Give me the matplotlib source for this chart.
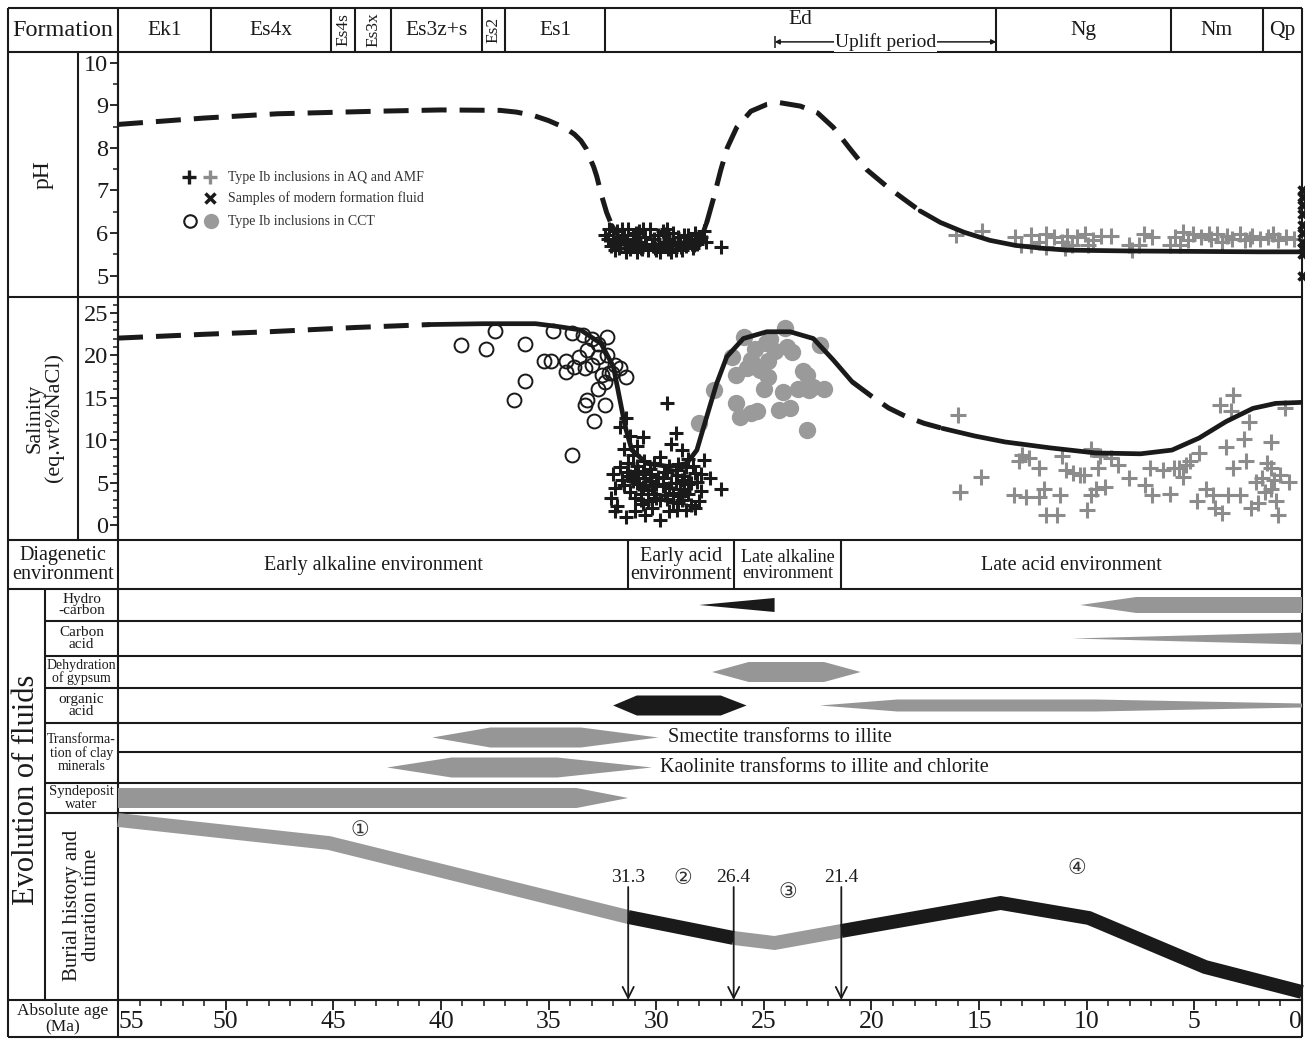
import matplotlib
matplotlib.use("Agg")
import matplotlib.pyplot as plt
import numpy as np
from matplotlib.patches import Polygon

W, H, DPI = 1305, 1041, 100
INK = "#1a1a1a"
PT_GRAY = "#8c8c8c"
DOT_GRAY = "#9a9a9a"
BAR_GRAY = "#969696"

plt.rcParams.update({
    "font.family": ["Liberation Serif", "DejaVu Sans"],
    "text.color": INK,
    "axes.unicode_minus": False,
})

# -----------------------------------------------------------------------------
# Stratigraphy (ages in Ma)
# -----------------------------------------------------------------------------
formation_names = ["Ek1", "Es4x", "Es4s", "Es3x", "Es3z+s", "Es2", "Es1", "Ed", "Ng", "Nm", "Qp"]
formation_bounds = [55, 50.7, 45.1, 44.0, 42.3, 38.1, 37.0, 32.4, 14.2, 6.1, 1.8, 0]
formation_rotated = ["Es4s", "Es3x", "Es2"]
uplift_start, uplift_end = 24.5, 14.2

# -----------------------------------------------------------------------------
# pH evolution curve
# -----------------------------------------------------------------------------
ph_early_age = [55, 51, 47.6, 43, 40, 37.25, 36.5, 35.7, 35.0, 34.5, 34.15, 33.8, 33.5,
                33.25, 33.07, 32.9, 32.76, 32.53, 32.3, 32.06]
ph_early = [8.55, 8.70, 8.80, 8.86, 8.89, 8.88, 8.84, 8.76, 8.64, 8.53, 8.44, 8.32, 8.17,
            7.98, 7.75, 7.55, 7.33, 6.87, 6.48, 6.18]
ph_trough_age = [32.06, 31.68, 30.9, 30.3, 29.2, 28.4, 27.9, 27.65]
ph_trough = [6.18, 5.87, 5.70, 5.64, 5.60, 5.71, 5.90, 6.25]
ph_uplift_age = [27.65, 27.35, 27.0, 26.7, 26.26, 25.6, 24.86, 24.25, 23.3, 22.5, 21.77,
                 21.0, 20.2, 19.3, 18.5, 17.74]
ph_uplift = [6.25, 6.79, 7.48, 8.0, 8.48, 8.86, 9.02, 9.06, 8.98, 8.82, 8.48,
             7.98, 7.48, 7.10, 6.80, 6.52]
ph_late_age = [17.74, 16.8, 15.7, 14.5, 13.3, 12.0, 10.9, 8.0, 5.0, 2.0, 0]
ph_late = [6.52, 6.25, 6.02, 5.83, 5.71, 5.64, 5.60, 5.58, 5.57, 5.56, 5.56]

# Type Ib inclusions in AQ and AMF (early, black)
ph_aq_black_age = [32.4, 32.2, 32.0, 31.8, 31.7, 31.5, 31.3, 31.2, 31.0, 30.8, 30.7, 30.5,
                   30.3, 30.2, 30.0, 29.9, 29.7, 29.6, 29.4, 29.2, 29.1, 28.9, 28.7, 28.6,
                   28.4, 28.2, 28.1, 27.9, 27.8, 27.7, 27.0, 32.1, 31.9, 31.4, 30.9, 30.4,
                   29.8, 29.3, 28.8, 28.3, 31.6, 30.6, 29.5, 30.1, 31.1, 29.0,
                   31.9, 31.6, 31.35, 31.05, 30.75, 30.45, 30.15, 29.85, 29.55, 29.25,
                   28.95, 28.65, 28.35, 28.05, 31.75, 31.2, 30.65, 30.05, 29.45, 28.85,
                   28.25, 32.25, 30.95, 29.65, 28.5]
ph_aq_black = [5.95, 6.10, 5.85, 6.05, 5.75, 5.95, 6.10, 5.70, 5.85, 6.05, 5.65, 5.90,
               6.10, 5.75, 5.60, 5.95, 6.05, 5.70, 5.85, 6.00, 5.60, 5.80, 5.95, 5.70,
               5.85, 6.00, 5.75, 5.90, 6.05, 5.80, 5.68, 5.70, 5.60, 5.55, 5.55, 5.60,
               5.55, 5.55, 5.60, 5.65, 6.10, 6.10, 6.10, 5.85, 5.95, 5.90,
               5.80, 5.85, 5.80, 5.75, 5.80, 5.75, 5.70, 5.75, 5.80, 5.72,
               5.75, 5.80, 5.75, 5.85, 5.65, 5.62, 5.62, 5.65, 5.62, 5.67,
               5.72, 5.85, 6.00, 5.98, 5.95]

# Type Ib inclusions in AQ and AMF (late, gray)
ph_aq_gray_age = [16.06, 14.87, 13.31, 13.07, 12.59, 12.23, 11.87, 11.51, 11.15, 10.92, 10.68,
                  10.44, 10.08, 9.96, 9.72, 9.36, 8.88, 8.04, 7.32, 6.97, 6.13, 5.89, 5.53,
                  5.29, 5.05, 4.69, 4.21, 3.97, 3.73, 3.49, 3.25, 2.89, 2.66, 2.30, 1.94,
                  1.58, 1.34, 1.10, 0.74, 0.38, 12.59, 11.87, 11.03, 7.56, 7.92, 5.65,
                  4.33, 2.42]
ph_aq_gray = [5.96, 6.06, 5.91, 5.71, 5.96, 5.79, 5.98, 5.91, 5.79, 5.94, 5.71,
              5.91, 5.98, 5.71, 5.83, 5.94, 5.94, 5.71, 5.98, 5.91, 5.71, 5.91, 6.02,
              5.83, 5.98, 5.91, 5.87, 5.98, 5.79, 5.94, 5.87, 5.98, 5.83, 5.94, 5.87,
              5.91, 5.98, 5.83, 5.91, 5.87, 5.71, 5.68, 5.64, 5.71, 5.60, 5.71,
              5.98, 5.87]

# Samples of modern formation fluid (present day)
ph_modern = [7.0, 6.85, 6.65, 6.45, 6.2, 6.0, 5.8, 5.65, 5.5, 5.0]

# -----------------------------------------------------------------------------
# Salinity evolution curve (eq. wt% NaCl)
# -----------------------------------------------------------------------------
sal_early_age = [55, 51, 48, 44, 40.5]
sal_early = [22.05, 22.5, 22.8, 23.3, 23.65]
sal_mid_age = [40.5, 38, 35.6, 34.46, 33.5, 32.56, 31.99, 31.68, 31.44, 31.13, 30.44, 29.35,
               28.58, 28.11, 27.65, 27.19, 26.72, 25.95, 24.86, 23.78, 22.7, 21.77, 20.9]
sal_mid = [23.65, 23.75, 23.75, 23.38, 23.0, 21.4, 18.7, 14.7, 11.6, 8.84, 7.27, 6.88,
           7.27, 8.84, 12.8, 16.7, 19.85, 22.0, 22.8, 22.8, 22.0, 19.46, 16.9]
sal_gap_age = [20.9, 20.0, 19.2, 18.4, 17.56, 16.7]
sal_gap = [16.9, 15.2, 13.8, 12.8, 12.0, 11.4]
sal_late_age = [16.7, 15.2, 13.8, 11.7, 9.6, 7.5, 6.04, 4.78, 3.53, 2.28, 1.22, 0]
sal_late = [11.4, 10.5, 9.8, 9.1, 8.5, 8.4, 8.84, 10.26, 12.2, 13.76, 14.35, 14.47]

# Type Ib inclusions in CCT (open circles)
sal_cct_open_age = [39.06, 37.9, 37.5, 36.1, 36.6, 36.1, 34.8, 35.2, 34.9, 34.2, 34.2, 33.8,
                    33.3, 33.6, 33.9, 33.4, 33.0, 32.7, 32.3, 33.2, 32.7, 32.3, 33.0, 32.5,
                    32.2, 31.9, 31.7, 31.4, 32.4, 32.7, 33.2, 33.3, 32.4, 32.9, 33.9, 32.06]
sal_cct_open = [21.2, 20.8, 22.9, 21.3, 14.7, 17.0, 22.9, 19.3, 19.3, 19.3, 18.1, 18.7,
                18.5, 19.8, 22.7, 22.4, 22.0, 21.4, 22.2, 20.6, 19.8, 20.0, 18.9, 17.7,
                17.9, 18.9, 18.5, 17.5, 16.9, 16.1, 14.7, 14.2, 14.2, 12.3, 8.3, 17.9]

# Type Ib inclusions in CCT (gray dots)
sal_cct_gray_age = [28.0, 27.3, 26.5, 26.3, 26.3, 26.1, 25.9, 25.8, 25.6, 25.4, 25.3, 25.2,
                    25.0, 24.8, 24.8, 24.7, 24.5, 24.3, 24.1, 24.0, 23.9, 23.8, 23.7, 23.4,
                    23.2, 23.0, 23.0, 22.9, 22.7, 22.4, 22.2, 25.6, 24.9]
sal_cct_gray = [12.0, 15.9, 19.8, 17.7, 14.4, 12.8, 22.2, 18.5, 13.2, 20.8, 13.4, 18.3,
                16.0, 19.3, 17.5, 22.0, 20.5, 13.6, 15.7, 23.2, 21.0, 13.8, 20.4, 16.0,
                18.2, 11.2, 17.7, 15.9, 16.3, 21.2, 16.1, 19.5, 21.5]

# Type Ib inclusions in AQ and AMF (early, black)
sal_aq_black_age = [31.7, 31.4, 31.2, 30.9, 31.5, 31.1, 30.6, 29.5, 29.3, 29.1, 28.8, 28.5,
                    28.3, 27.8, 27.9, 27.5, 27.0, 27.9, 28.0, 28.2, 28.6, 29.0, 29.4, 29.8,
                    30.2, 30.6, 31.0, 31.4, 31.8, 32.1, 31.9, 31.6, 32.0, 31.7, 31.3, 31.0,
                    30.8, 30.5, 30.3, 30.1, 29.9, 29.7, 29.5, 29.3, 29.1, 28.9, 28.7, 28.5,
                    28.4, 28.2, 30.7, 30.4, 30.0, 29.6, 29.2, 31.2, 31.5, 30.9, 29.8, 29.0,
                    28.6, 31.1, 30.2, 29.4, 28.8, 30.5, 31.9, 28.4, 30.6, 29.05, 28.1,
                    31.2, 30.9, 30.6, 30.3, 30.0, 29.7, 29.4, 29.1, 28.8, 28.5, 31.0, 30.7,
                    30.4, 30.1, 29.8, 29.5, 29.2, 28.9, 30.85, 30.25, 29.65, 29.05, 31.35,
                    28.7, 30.55]
sal_aq_black = [11.6, 12.6, 10.5, 9.3, 9.0, 8.2, 10.4, 14.4, 9.6, 10.8, 8.9, 7.8,
                7.0, 7.7, 6.0, 5.5, 4.3, 4.0, 2.8, 2.0, 1.8, 2.6, 1.7, 0.6,
                2.0, 2.5, 1.6, 1.0, 2.3, 3.2, 4.4, 5.3, 6.0, 6.8, 7.3, 6.0,
                4.8, 5.5, 6.6, 7.3, 5.7, 4.6, 6.2, 5.0, 6.5, 4.3, 5.8, 3.6,
                5.0, 6.1, 3.6, 4.1, 3.2, 3.5, 3.8, 3.9, 4.7, 7.0, 8.0, 7.2,
                6.8, 5.2, 4.6, 7.0, 3.0, 1.2, 1.6, 2.4, 6.3, 1.8, 5.1,
                5.8, 5.0, 4.5, 5.2, 4.8, 5.5, 4.4, 4.9, 5.3, 4.8, 3.2, 3.0,
                2.8, 3.6, 2.9, 3.1, 2.7, 3.4, 6.4, 6.0, 6.3, 5.9, 6.2,
                4.0, 7.6]

# Type Ib inclusions in AQ and AMF (late, gray)
sal_aq_gray_age = [16.0, 15.9, 14.9, 13.0, 13.4, 12.7, 12.8, 12.2, 12.0, 12.2, 11.9, 11.37,
                   11.16, 10.95, 10.63, 10.32, 10.11, 10.0, 9.8, 9.59, 9.8, 9.48, 9.38, 9.17,
                   8.86, 8.02, 7.29, 7.08, 6.97, 6.14, 5.93, 5.72, 5.51, 5.4, 5.2, 4.88,
                   4.78, 4.15, 4.04, 3.73, 3.83, 3.21, 3.31, 3.52, 3.21, 2.89, 2.68, 2.47,
                   2.58, 2.37, 2.06, 1.74, 1.43, 1.43, 1.32, 1.22, 1.11, 1.01, 0.8, 0.59,
                   1.43, 1.85, 3.42, 4.46, 2.16, 1.64, 6.45, 8.54, 11.26, 13.14]
sal_aq_gray = [13.0, 3.9, 5.7, 8.3, 3.5, 7.9, 3.3, 6.7, 4.3, 3.3, 1.2, 1.2,
               8.1, 6.5, 6.1, 5.9, 5.9, 1.8, 3.5, 4.3, 9.0, 6.7, 8.1, 4.5,
               7.9, 5.5, 4.7, 6.7, 3.5, 3.7, 6.7, 6.7, 5.7, 7.1, 7.5, 2.8,
               8.5, 3.5, 2.0, 1.4, 14.2, 15.3, 13.4, 9.2, 6.7, 3.5, 10.2, 12.2,
               7.5, 2.0, 2.6, 3.9, 9.8, 6.7, 5.3, 2.8, 1.2, 5.9, 13.8, 5.1,
               4.3, 5.5, 3.5, 4.3, 5.1, 7.3, 6.5, 7.1, 3.5, 7.5]

# -----------------------------------------------------------------------------
# Diagenetic environments and fluid events (ages in Ma)
# -----------------------------------------------------------------------------
diag_bounds = [55, 31.3, 26.4, 21.4, 0]
diag_names = ["Early alkaline environment", "Early acid\nenvironment",
              "Late alkaline\nenvironment", "Late acid environment"]

hydrocarbon_early = [28.0, 24.5]
hydrocarbon_late = [10.3, 7.7, 0]
carbon_acid = [10.7, 0]
gypsum_dehydration = [27.4, 25.7, 22.2, 20.5]
organic_acid_early = [32.0, 30.9, 27.0, 25.8]
organic_acid_late = [22.4, 18.8, 9.6, 0]
smectite_illite = [40.4, 37.7, 33.5, 29.9]
kaolinite_illite = [42.5, 39.5, 34.6, 30.2]
syndeposit_water = [55, 33.7, 31.3]

# -----------------------------------------------------------------------------
# Burial history (relative burial depth) and stage boundaries
# -----------------------------------------------------------------------------
burial_age = [55, 45.2, 31.3, 26.4, 24.5, 21.4, 14.0, 9.9, 4.5, 0]
burial_depth = [7, 30, 104, 125, 130, 118, 90, 105, 154, 179]
stage_bounds = [55, 31.3, 26.4, 21.4, 0]
stage_colors = ["#9a9a9a", INK, "#9a9a9a", INK]
stage_labels = ["\u2460", "\u2461", "\u2462", "\u2463"]
stage_label_pos = [(43.75, 19), (28.75, 67), (23.9, 80), (10.45, 57)]
key_ages = [31.3, 26.4, 21.4]

# -----------------------------------------------------------------------------
# Layout (pixels)
# -----------------------------------------------------------------------------
X_L, X_R, LEFT = 118, 1302, 8
Y_TOP, Y_HDR, Y_PH, Y_SAL, Y_DIAG = 8, 52, 297, 540, 589
EVO_ROWS = [589, 621, 656, 688, 723, 752, 783, 813]
Y_BUR, Y_BOT = 1000, 1037
LW = 1.5

fig = plt.figure(figsize=(W / DPI, H / DPI), dpi=DPI, facecolor="white")


def add_px_axes(x0, y0, x1, y1):
    ax = fig.add_axes([x0 / W, 1 - y1 / H, (x1 - x0) / W, (y1 - y0) / H])
    ax.set_facecolor("none")
    return ax


# Table frame
frame = fig.add_axes([0, 0, 1, 1])
frame.set_xlim(0, W)
frame.set_ylim(H, 0)
frame.axis("off")
for y in [Y_TOP, Y_HDR, Y_PH, Y_SAL, Y_DIAG, Y_BUR, Y_BOT]:
    frame.hlines(y, LEFT, X_R, color=INK, lw=LW)
for y in EVO_ROWS[1:-1]:
    frame.hlines(y, 45 if y != 752 else X_L, X_R, color=INK, lw=LW)
frame.hlines(EVO_ROWS[-1], 45, X_R, color=INK, lw=LW)
for x in [LEFT, X_L, X_R]:
    frame.vlines(x, Y_TOP, Y_BOT, color=INK, lw=LW)
frame.vlines(78, Y_HDR, Y_SAL, color=INK, lw=LW)
frame.vlines(45, Y_DIAG, Y_BUR, color=INK, lw=LW)

frame.text(63, 31, "Formation", ha="center", va="center", fontsize=17.5)
frame.text(43, 175, "pH", ha="center", va="center", rotation=90, fontsize=17)
frame.text(45, 418, "Salinity\n(eq.wt%NaCl)", ha="center", va="center",
           rotation=90, fontsize=16, linespacing=1.0)
frame.text(63, 565, "Diagenetic\nenvironment", ha="center", va="center",
           fontsize=14.5, linespacing=0.95)
frame.text(27, 790, "Evolution of fluids", ha="center", va="center",
           rotation=90, fontsize=22)
sub_labels = ["Hydro\n-carbon", "Carbon\nacid", "Dehydration\nof gypsum", "organic\nacid"]
sub_sizes = [11, 11, 10, 11]
for i, (lab, fs) in enumerate(zip(sub_labels, sub_sizes)):
    yc = (EVO_ROWS[i] + EVO_ROWS[i + 1]) / 2
    frame.text(81.5, yc, lab, ha="center", va="center", fontsize=fs, linespacing=0.9)
frame.text(81.5, (EVO_ROWS[4] + EVO_ROWS[6]) / 2, "Transforma-\ntion of clay\nminerals",
           ha="center", va="center", fontsize=10, linespacing=1.05)
frame.text(81.5, (EVO_ROWS[6] + EVO_ROWS[7]) / 2, "Syndeposit\nwater",
           ha="center", va="center", fontsize=10.5, linespacing=0.9)
frame.text(82, 905, "Burial history and\nduration time", ha="center", va="center",
           rotation=90, fontsize=15, linespacing=1.05)
frame.text(63, 1019, "Absolute age\n(Ma)", ha="center", va="center",
           fontsize=12.5, linespacing=1.0)

# Legend
frame.plot([189], [177], "+", color=INK, ms=10, mew=2.4)
frame.plot([210], [177], "+", color=PT_GRAY, ms=10, mew=2.4)
frame.plot([210], [198], "x", color=INK, ms=6.5, mew=2.5)
frame.plot([190], [221], "o", mfc="none", mec=INK, ms=9, mew=1.5)
frame.plot([211], [221], "o", color=DOT_GRAY, mec="none", ms=11)
for y, txt in [(177, "Type Ib inclusions in AQ and AMF"),
               (198, "Samples of modern formation fluid"),
               (221, "Type Ib inclusions in CCT")]:
    frame.text(228, y, txt, ha="left", va="center", fontsize=10, color="#333333")

# Formation header
hdr = add_px_axes(X_L, Y_TOP, X_R, Y_HDR)
hdr.set_xlim(55, 0)
hdr.set_ylim(1, 0)
hdr.axis("off")
hdr.vlines(formation_bounds[1:-1], 0, 1, color=INK, lw=LW)
for name, a0, a1 in zip(formation_names, formation_bounds[:-1], formation_bounds[1:]):
    xc = (a0 + a1) / 2
    if name in formation_rotated:
        hdr.text(xc, 0.5, name, ha="center", va="center", rotation=90, fontsize=12.5)
    elif name == "Ed":
        hdr.text(xc, 0.27, name, ha="center", va="center", fontsize=15.5)
    else:
        hdr.text(xc, 0.52, name, ha="center", va="center", fontsize=15.5)
hdr.annotate("", xy=(uplift_end, 0.77), xytext=(uplift_start, 0.77),
             arrowprops=dict(arrowstyle="<|-|>", lw=1.1, color=INK,
                             mutation_scale=7, shrinkA=0, shrinkB=0))
hdr.vlines(uplift_start, 0.64, 0.9, color=INK, lw=1.1)
hdr.text((uplift_start + uplift_end) / 2, 0.77, "Uplift period", ha="center",
         va="center", fontsize=14,
         bbox=dict(boxstyle="square,pad=0.05", fc="white", ec="none"))

# pH panel
ax_ph = add_px_axes(X_L, Y_HDR, X_R, Y_PH)
ax_ph.set_xlim(55, 0)
ax_ph.set_ylim(4.63, 10.25)
ax_ph.plot(ph_aq_black_age, ph_aq_black, "+", color=INK, ms=9.5, mew=2.2)
ax_ph.plot(ph_aq_gray_age, ph_aq_gray, "+", color=PT_GRAY, ms=11, mew=2.2)
ax_ph.plot(np.zeros(len(ph_modern)), ph_modern, "x", color=INK, ms=6, mew=2.5,
           clip_on=False, zorder=5)
dash_kw = dict(color=INK, lw=3.6, dashes=(5.0, 2.6), solid_capstyle="butt",
               dash_capstyle="butt")
solid_kw = dict(color=INK, lw=3.4, solid_capstyle="round", solid_joinstyle="round")
ax_ph.plot(ph_early_age, ph_early, **dash_kw)
ax_ph.plot(ph_trough_age, ph_trough, **solid_kw)
ax_ph.plot(ph_uplift_age, ph_uplift, **dash_kw)
ax_ph.plot(ph_late_age, ph_late, **solid_kw)

# Salinity panel
ax_sal = add_px_axes(X_L, Y_PH, X_R, Y_SAL)
ax_sal.set_xlim(55, 0)
ax_sal.set_ylim(-1.77, 26.9)
ax_sal.plot(sal_cct_gray_age, sal_cct_gray, "o", color=DOT_GRAY, mec="none", ms=12.5)
ax_sal.plot(sal_cct_open_age, sal_cct_open, "o", mfc="none", mec=INK, ms=10, mew=1.4)
ax_sal.plot(sal_aq_black_age, sal_aq_black, "+", color=INK, ms=10, mew=2.2)
ax_sal.plot(sal_aq_gray_age, sal_aq_gray, "+", color=PT_GRAY, ms=11, mew=2.2)
ax_sal.plot(sal_early_age, sal_early, **dash_kw)
ax_sal.plot(sal_mid_age, sal_mid, **solid_kw)
ax_sal.plot(sal_gap_age, sal_gap, **dash_kw)
ax_sal.plot(sal_late_age, sal_late, **solid_kw)

for ax, major, minor in [(ax_ph, np.arange(5, 11), np.arange(4.5, 10.3, 0.5)),
                         (ax_sal, np.arange(0, 26, 5), np.arange(0, 27, 1))]:
    for side in ["top", "right", "bottom"]:
        ax.spines[side].set_visible(False)
    ax.spines["left"].set_linewidth(LW)
    ax.spines["left"].set_color(INK)
    ax.set_xticks([])
    ax.set_yticks(major)
    ax.set_yticks(minor, minor=True)
    ax.tick_params(axis="y", which="major", direction="out", length=6, width=1.3,
                   labelsize=17.5, pad=1, colors=INK)
    ax.tick_params(axis="y", which="minor", direction="out", length=3.5, width=1.1,
                   colors=INK)

# Diagenetic environment row
diag = add_px_axes(X_L, Y_SAL, X_R, Y_DIAG)
diag.set_xlim(55, 0)
diag.set_ylim(1, 0)
diag.axis("off")
diag.vlines(diag_bounds[1:-1], 0, 1, color=INK, lw=LW)
diag_sizes = [14.5, 14.5, 13, 14.5]
for name, a0, a1, fs in zip(diag_names, diag_bounds[:-1], diag_bounds[1:], diag_sizes):
    diag.text((a0 + a1) / 2, 0.52, name, ha="center", va="center", fontsize=fs,
              linespacing=0.95)

# Fluid evolution bars
evo = add_px_axes(X_L, EVO_ROWS[0], X_R, EVO_ROWS[-1])
evo.set_xlim(55, 0)
evo.set_ylim(EVO_ROWS[-1], EVO_ROWS[0])
evo.axis("off")
rc = [(EVO_ROWS[i] + EVO_ROWS[i + 1]) / 2 for i in range(len(EVO_ROWS) - 1)]


def hexagon(a, yc, h):
    return [(a[0], yc), (a[1], yc - h), (a[2], yc - h), (a[3], yc),
            (a[2], yc + h), (a[1], yc + h)]


shapes = [
    ([(hydrocarbon_early[0], rc[0]), (hydrocarbon_early[1], rc[0] - 7),
      (hydrocarbon_early[1], rc[0] + 7)], INK),
    ([(hydrocarbon_late[0], rc[0]), (hydrocarbon_late[1], rc[0] - 8),
      (hydrocarbon_late[2], rc[0] - 8), (hydrocarbon_late[2], rc[0] + 8),
      (hydrocarbon_late[1], rc[0] + 8)], BAR_GRAY),
    ([(carbon_acid[0], rc[1]), (carbon_acid[1], rc[1] - 6),
      (carbon_acid[1], rc[1] + 6)], BAR_GRAY),
    (hexagon(gypsum_dehydration, rc[2], 10), BAR_GRAY),
    (hexagon(organic_acid_early, rc[3], 10), INK),
    ([(organic_acid_late[0], rc[3]), (organic_acid_late[1], rc[3] - 6),
      (organic_acid_late[2], rc[3] - 6), (organic_acid_late[3], rc[3] - 2),
      (organic_acid_late[3], rc[3] + 2), (organic_acid_late[2], rc[3] + 6),
      (organic_acid_late[1], rc[3] + 6)], BAR_GRAY),
    (hexagon(smectite_illite, rc[4], 10), BAR_GRAY),
    (hexagon(kaolinite_illite, rc[5], 10), BAR_GRAY),
    ([(syndeposit_water[0], rc[6] - 10), (syndeposit_water[1], rc[6] - 10),
      (syndeposit_water[2], rc[6]), (syndeposit_water[1], rc[6] + 10),
      (syndeposit_water[0], rc[6] + 10)], BAR_GRAY),
]
for pts, col in shapes:
    evo.add_patch(Polygon(pts, closed=True, fc=col, ec="none"))
evo.text(29.45, rc[4], "Smectite transforms to illite", ha="left", va="center",
         fontsize=14.5)
evo.text(29.8, rc[5], "Kaolinite transforms to illite and chlorite", ha="left",
         va="center", fontsize=14.5)

# Burial history
bur = add_px_axes(X_L, EVO_ROWS[-1], X_R, Y_BUR)
bur.set_xlim(55, 0)
bur.set_ylim(187, 0)
b_age = np.array(burial_age)
b_dep = np.array(burial_depth)
for a0, a1, col in zip(stage_bounds[:-1], stage_bounds[1:], stage_colors):
    sel = (b_age <= a0) & (b_age >= a1)
    bur.plot(b_age[sel], b_dep[sel], color=col, lw=10, solid_capstyle="butt",
             solid_joinstyle="miter", clip_on=False)
for lab, (a, d) in zip(stage_labels, stage_label_pos):
    bur.text(a, d, lab, ha="center", va="center", fontsize=15, color="#333333")
for a in key_ages:
    bur.annotate("", xy=(a, 187), xytext=(a, 74),
                 arrowprops=dict(arrowstyle="->", lw=1.3, color=INK,
                                 mutation_scale=20, shrinkA=0, shrinkB=0))
    bur.text(a, 65, f"{a:.1f}", ha="center", va="center", fontsize=14)

for side in ["top", "right", "left"]:
    bur.spines[side].set_visible(False)
bur.spines["bottom"].set_linewidth(LW)
bur.spines["bottom"].set_color(INK)
bur.set_yticks([])
bur.set_xticks(np.arange(55, -1, -5))
bur.set_xticks(np.arange(55, -1, -1), minor=True)
bur.tick_params(axis="x", which="major", direction="out", length=7, width=1.3,
                labelsize=18.5, pad=1, colors=INK)
bur.tick_params(axis="x", which="minor", direction="out", length=4, width=1.1,
                colors=INK)
ticks = bur.xaxis.get_major_ticks()
ticks[0].label1.set_horizontalalignment("left")
ticks[-1].label1.set_horizontalalignment("right")

fig.savefig("out.png", dpi=DPI, facecolor="white")
plt.close(fig)
